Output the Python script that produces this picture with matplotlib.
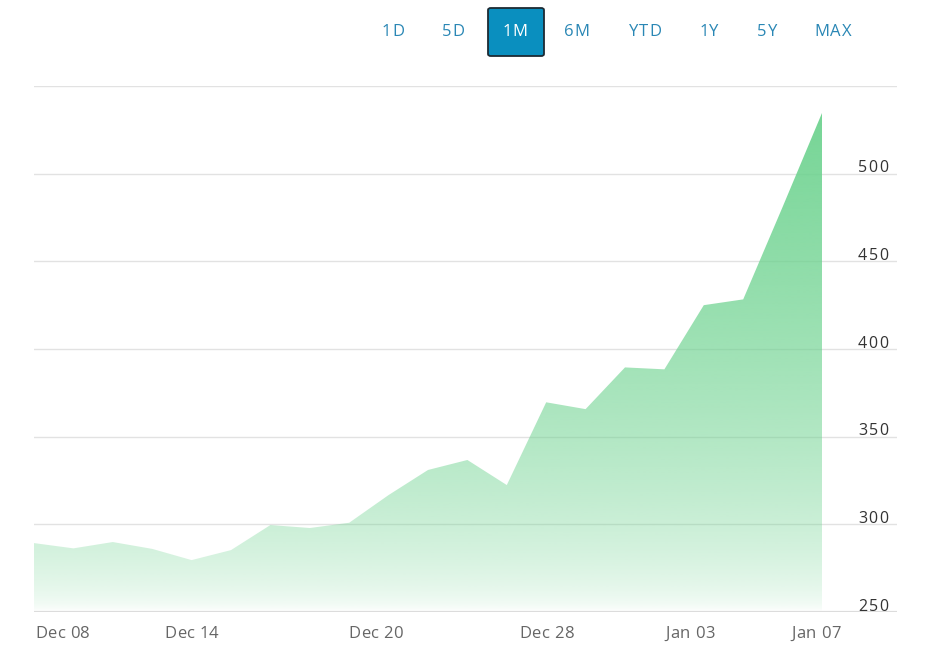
import numpy as np
import matplotlib
matplotlib.use("Agg")
import matplotlib.pyplot as plt
from matplotlib.patches import Polygon, FancyBboxPatch
from matplotlib.font_manager import FontProperties

plt.rcParams['font.family'] = ['Open Sans', 'DejaVu Sans']

# ---- data ----
dates = ["Dec 08", "Dec 09", "Dec 10", "Dec 11", "Dec 14", "Dec 15", "Dec 16",
         "Dec 17", "Dec 18", "Dec 21", "Dec 22", "Dec 23", "Dec 24", "Dec 28",
         "Dec 29", "Dec 30", "Dec 31", "Jan 04", "Jan 05", "Jan 06", "Jan 07"]
prices = [289.3, 286.3, 289.9, 286.0, 279.6, 285.3, 299.6, 297.9, 300.9, 316.7,
          331.0, 336.7, 322.4, 369.6, 365.7, 389.5, 388.4, 425.0, 428.3, 481.0, 534.6]
xtick_pos = [0, 4, 8.67, 13, 16.65, 19.85]
xtick_labels = ["Dec 08", "Dec 14", "Dec 20", "Dec 28", "Jan 03", "Jan 07"]
yticks = [250, 300, 350, 400, 450, 500]
grid_levels = [250, 300, 350, 400, 450, 500, 550]
ranges = ["1D", "5D", "1M", "6M", "YTD", "1Y", "5Y", "MAX"]
active_range = "1M"

W, H = 936, 664
fig = plt.figure(figsize=(W / 100, H / 100), dpi=100)
fig.patch.set_facecolor("white")
renderer = fig.canvas.get_renderer()


def spaced_text(x_px, y_px, s, size, color, spacing, ha="left", va="center",
                zorder=5):
    """Draw letter-spaced text; x_px, y_px in figure pixels from top-left."""
    prop = FontProperties(family=['Open Sans', 'DejaVu Sans'], size=size)
    widths = []
    for ch in s:
        w, h, d = renderer.get_text_width_height_descent(ch, prop, ismath=False)
        widths.append(w)
    total = sum(widths) + spacing * (len(s) - 1)
    if ha == "center":
        x0 = x_px - total / 2
    elif ha == "right":
        x0 = x_px - total
    else:
        x0 = x_px
    cur = x0
    for ch, w in zip(s, widths):
        fig.text(cur / W, 1 - y_px / H, ch, fontproperties=prop, color=color,
                 ha="left", va=va, zorder=zorder)
        cur += w + spacing


# axes: left 34px, right 897px, top 86px, bottom 612px
ax = fig.add_axes([34 / W, 1 - 612 / H, (897 - 34) / W, (612 - 86) / H])
ax.set_xlim(0, (897 - 34) / 39.4)
ax.set_ylim(250, 550)
for s in ax.spines.values():
    s.set_visible(False)
ax.set_xticks([])
ax.set_yticks([])
ax.patch.set_alpha(0)

for g in grid_levels:
    ax.axhline(g, color="#e2e2e2" if g != 250 else "#dcdcdc",
               lw=1.0 if g != 250 else 1.6, zorder=1)

x = np.arange(len(prices))
y = np.array(prices)
verts = [(x[0], 250)] + list(zip(x, y)) + [(x[-1], 250)]
poly = Polygon(verts, closed=True, facecolor="none", edgecolor="none")
ax.add_patch(poly)

# vertical gradient
n = 256
frac = np.linspace(0, 1, n)  # 0 bottom -> 1 top
alpha = np.clip(frac, 0, 1) ** 0.55
base = np.array([108, 210, 142]) / 255.0
rgba = np.zeros((n, 1, 4))
rgba[:, 0, :3] = base
rgba[:, 0, 3] = alpha * 0.93
im = ax.imshow(rgba, extent=[x[0], x[-1], 250, y.max()], origin="lower",
               aspect="auto", zorder=2, interpolation="bilinear")
im.set_clip_path(poly)


def data_to_px(xv, yv):
    disp = ax.transData.transform((xv, yv))
    return disp[0], H - disp[1]


# y labels (baseline just above gridline)
for t in yticks:
    _, ypx = data_to_px(0, t)
    spaced_text(858, ypx - 1.2, str(t), 11.5, "#333333", 1.4, ha="left",
                va="baseline")

# x labels
for pos, lab in zip(xtick_pos, xtick_labels):
    xpx, _ = data_to_px(pos, 250)
    ha = "left" if pos == 0 else "center"
    spaced_text(xpx if pos != 0 else 35, 633.5, lab, 12, "#666666", 0.3, ha=ha,
                va="center")

# range selector buttons
centers = [393, 453, 515, 577, 645, 709, 767, 833]
for cx, lab in zip(centers, ranges):
    if lab == active_range:
        box = FancyBboxPatch((488 / W, 1 - 56 / H), 56 / W, 48 / H,
                             boxstyle="round,pad=0,rounding_size=0.003",
                             transform=fig.transFigure, facecolor="#0a8fbf",
                             edgecolor="#1c2a33", lw=1.3)
        fig.patches.append(box)
        spaced_text(cx, 32.5, lab, 12, "white", 0.8, ha="center")
    else:
        spaced_text(cx, 32.5, lab, 12, "#2a87b5", 0.8, ha="center")

fig.savefig("out.png", dpi=100, facecolor="white")
